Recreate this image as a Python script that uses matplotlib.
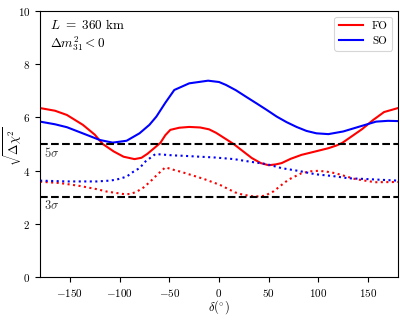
import matplotlib
matplotlib.use("Agg")
import matplotlib.pyplot as plt

plt.rcParams['mathtext.fontset'] = 'cm'
plt.rcParams['font.family'] = 'serif'
plt.rcParams['font.serif'] = ['cmr10', 'DejaVu Serif']
plt.rcParams['axes.unicode_minus'] = False

# FO, solid
fo_x = [-180, -165, -153, -137, -125, -117, -106, -96, -85, -78, -72, -65, -59, -54, -49, -40, -30, -19, -10, -3, 5, 15, 25, 33, 42, 50, 57, 63, 72, 83, 95, 110, 118, 124, 134, 144, 155, 166, 180]
fo_y = [6.35, 6.25, 6.09, 5.72, 5.35, 5.00, 4.72, 4.52, 4.43, 4.48, 4.63, 4.85, 5.04, 5.33, 5.53, 5.61, 5.64, 5.62, 5.55, 5.42, 5.23, 4.99, 4.70, 4.47, 4.28, 4.20, 4.23, 4.28, 4.44, 4.59, 4.70, 4.84, 4.94, 5.04, 5.30, 5.56, 5.90, 6.20, 6.35]

# SO, solid
so_x = [-180, -165, -153, -133, -120, -107, -93, -80, -70, -63, -54, -45, -30, -11, 0, 7, 17, 27, 38, 48, 58, 68, 78, 88, 98, 110, 125, 141, 158, 170, 180]
so_y = [5.84, 5.74, 5.63, 5.34, 5.15, 5.05, 5.12, 5.40, 5.72, 6.03, 6.55, 7.03, 7.28, 7.38, 7.33, 7.22, 7.02, 6.78, 6.52, 6.28, 6.03, 5.82, 5.64, 5.49, 5.40, 5.37, 5.47, 5.65, 5.84, 5.87, 5.86]

# FO, dotted
fod_x = [-180, -160, -140, -123, -113, -95, -89, -83, -76, -69, -62, -54, -45, -39, -32, -15, 1, 16, 24, 36, 46, 55, 63, 70, 83, 92, 100, 108, 117, 137, 157, 180]
fod_y = [3.58, 3.53, 3.42, 3.30, 3.21, 3.11, 3.12, 3.20, 3.36, 3.59, 3.85, 4.12, 4.02, 3.96, 3.88, 3.68, 3.46, 3.18, 3.09, 3.02, 3.05, 3.22, 3.46, 3.66, 3.90, 3.97, 3.99, 3.96, 3.90, 3.68, 3.56, 3.57]

# SO, dotted
sod_x = [-180, -153, -123, -110, -103, -93, -86, -80, -74, -64, -46, -39, -19, -4, 15, 30, 48, 63, 81, 97, 115, 130, 148, 180]
sod_y = [3.62, 3.59, 3.59, 3.62, 3.66, 3.77, 3.96, 4.09, 4.34, 4.62, 4.57, 4.56, 4.52, 4.49, 4.43, 4.34, 4.24, 4.09, 3.98, 3.86, 3.79, 3.71, 3.68, 3.62]

sigma_levels = [5, 3]
sigma_labels = [r'$5\sigma$', r'$3\sigma$']

xticks = [-150, -100, -50, 0, 50, 100, 150]
yticks = [0, 2, 4, 6, 8, 10]

fig = plt.figure(figsize=(4.09, 3.15), dpi=100)
ax = fig.add_axes([0.098, 0.121, 0.875, 0.844])

ax.plot(fo_x, fo_y, color='red', lw=1.5, label='FO')
ax.plot(so_x, so_y, color='blue', lw=1.5, label='SO')
ax.plot(fod_x, fod_y, color='red', lw=1.5, ls=':')
ax.plot(sod_x, sod_y, color='blue', lw=1.5, ls=':')

for lev, lab in zip(sigma_levels, sigma_labels):
    ax.axhline(lev, color='black', ls='--', lw=1.5)
    ax.text(-176, lev - 0.06, lab, fontsize=9, va='top', ha='left', color='#333333')

ax.set_xlim(-180, 180)
ax.set_ylim(0, 10)
ax.set_xticks(xticks)
ax.set_xticklabels([r'$%d$' % t for t in xticks], fontsize=8)
ax.set_yticks(yticks)
ax.set_yticklabels([r'$%d$' % t for t in yticks], fontsize=8)
ax.set_xlabel(r'$\delta(^{\circ})$', fontsize=9, labelpad=0)
ax.set_ylabel(r'$\sqrt{\Delta\chi^2}$', fontsize=9)
ax.yaxis.set_label_coords(-0.045, 0.49)

ax.text(-170, 9.75, r'$L\ =\ 360\ \mathrm{km}$', fontsize=9.5, va='top', ha='left')
ax.text(-170, 9.12, r'$\Delta m^2_{31} < 0$', fontsize=9.5, va='top', ha='left')

leg = ax.legend(loc='upper right', fontsize=8, handlelength=2.2, fancybox=True, edgecolor='#cccccc')
leg.get_frame().set_linewidth(0.8)

fig.savefig('out.png', dpi=100)
